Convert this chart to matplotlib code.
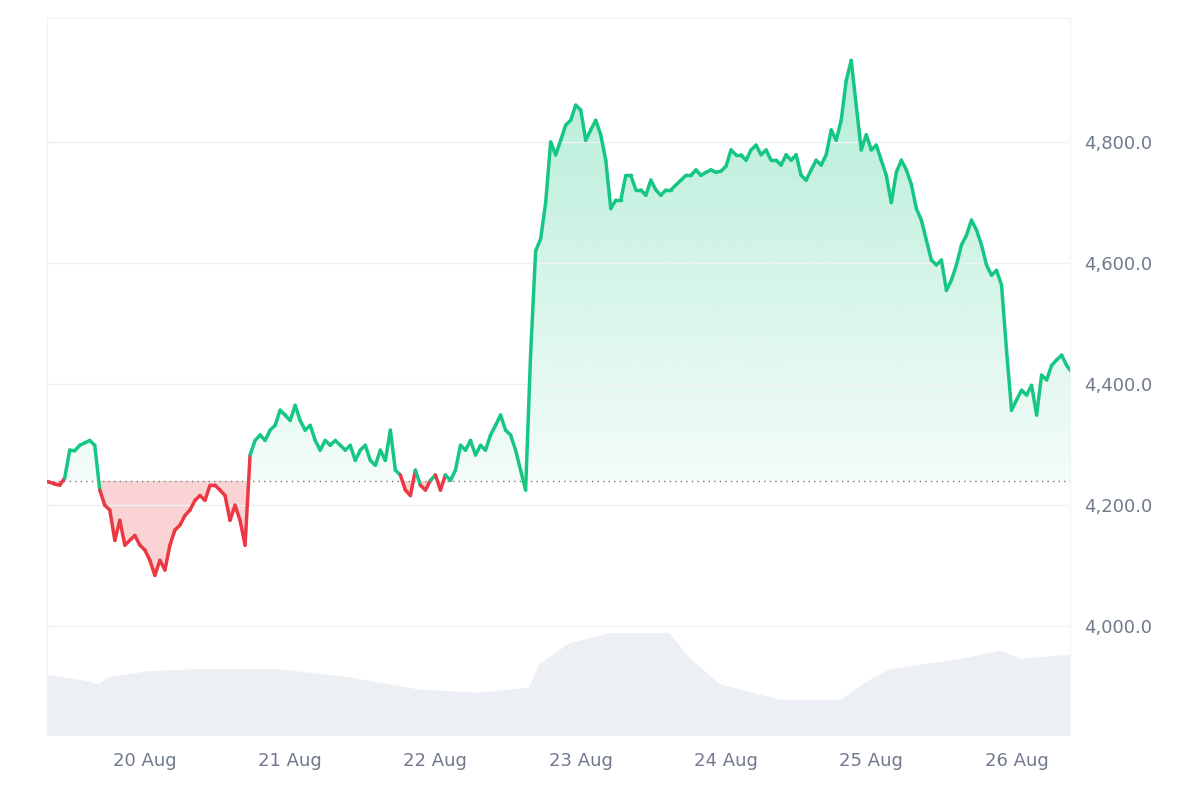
import numpy as np
from matplotlib import pyplot as plt
from matplotlib.collections import LineCollection
from matplotlib.path import Path

# Price data, sampled every ~50 minutes, starting 19 Aug ~07:30
start_hour = -16.55   # hours relative to 20 Aug 00:00
step_hour = 0.8276
price = [
    4240, 4238, 4235, 4233, 4245, 4291, 4290, 4299, 4303, 4307, 4299, 4225, 4200, 4192, 4142, 4175,
    4134, 4142, 4150, 4134, 4126, 4109, 4084, 4109, 4093, 4134, 4159, 4167, 4183, 4192, 4208, 4216,
    4208, 4233, 4233, 4225, 4216, 4175, 4200, 4175, 4134, 4283, 4307, 4316, 4307, 4324, 4332, 4357,
    4349, 4340, 4365, 4340, 4324, 4332, 4307, 4291, 4307, 4299, 4307, 4299, 4291, 4299, 4274, 4291,
    4299, 4274, 4266, 4291, 4274, 4324, 4258, 4250, 4225, 4216, 4258, 4233, 4225, 4241, 4250, 4225,
    4250, 4241, 4258, 4299, 4291, 4307, 4283, 4299, 4291, 4316, 4332, 4349, 4324, 4316, 4291, 4258,
    4225, 4450, 4620, 4640, 4700, 4800, 4779, 4803, 4828, 4836, 4861, 4853, 4803, 4820, 4836, 4812,
    4770, 4690, 4704, 4704, 4745, 4745, 4721, 4721, 4712, 4737, 4721, 4712, 4721, 4721, 4729, 4737,
    4745, 4745, 4754, 4745, 4750, 4754, 4750, 4752, 4760, 4787, 4779, 4779, 4770, 4787, 4795, 4779,
    4787, 4770, 4770, 4762, 4779, 4770, 4779, 4745, 4737, 4754, 4770, 4762, 4779, 4820, 4803, 4836,
    4902, 4935, 4860, 4787, 4812, 4787, 4795, 4770, 4745, 4700, 4750, 4770, 4754, 4730, 4690, 4671,
    4638, 4605, 4597, 4605, 4555, 4572, 4597, 4630, 4646, 4671, 4655, 4630, 4597, 4580, 4588, 4564,
    4456, 4357, 4374, 4390, 4382, 4398, 4349, 4415, 4407, 4431, 4440, 4448, 4431, 4420,
]
baseline = 4240

# Volume (arbitrary units, own scale)
vol_hour = [-16.55, -9.4, -7.7, -6.1, 0.5, 8.8, 22.0, 33.6, 45.2, 55.2, 63.4, 65.1, 70.0, 76.7,
            86.6, 90.0, 95.0, 104.9, 114.8, 119.8, 123.1, 134.7, 141.3, 144.6, 154.6]
volume = [60, 53, 50, 57, 63, 65, 65, 57, 45, 42, 47, 70, 90, 100, 100, 75, 50, 35, 35, 55, 65,
          75, 83, 75, 80]

day_ticks = [0, 24, 48, 72, 96, 120, 144]
day_labels = ["20 Aug", "21 Aug", "22 Aug", "23 Aug", "24 Aug", "25 Aug", "26 Aug"]

green = "#16c784"
red = "#ea3943"
grey_text = "#6f7a8c"

t = start_hour + step_hour * np.arange(len(price))
p = np.array(price, dtype=float)

fig = plt.figure(figsize=(12, 8), dpi=100)
ax = fig.add_axes([0.039, 0.081, 0.853, 0.8965])
ylo, yhi = 3820, 5005

# volume on a twin axis, drawn behind
axv = ax.twinx()
axv.fill_between(vol_hour, 0, volume, color="#eceff3", lw=0, zorder=0)
axv.set_ylim(0, 700)
axv.set_yticks([])
for s in axv.spines.values():
    s.set_visible(False)
ax.set_zorder(axv.get_zorder() + 1)
ax.patch.set_visible(False)

# gradient green fill above the baseline
poly = ax.fill_between(t, baseline, p, where=p >= baseline, interpolate=True,
                       color="none", lw=0)
grad = np.zeros((256, 1, 4))
grad[..., 0:3] = np.array([0x16, 0xc7, 0x84]) / 255
grad[:, 0, 3] = np.linspace(0.05, 0.32, 256)
img = ax.imshow(grad, extent=[t[0], t[-1], baseline, max(price)], origin="lower",
                aspect="auto", zorder=1)
img.set_clip_path(Path.make_compound_path(*poly.get_paths()), transform=ax.transData)

# red fill below the baseline
ax.fill_between(t, baseline, p, where=p < baseline, interpolate=True,
                color=red, alpha=0.22, lw=0, zorder=1)

# coloured price line
pts = np.column_stack([t, p])
segs = np.stack([pts[:-1], pts[1:]], axis=1)
cols = [green if (a + b) / 2 >= baseline else red for a, b in zip(p[:-1], p[1:])]
ax.add_collection(LineCollection(segs, colors=cols, linewidths=2.5, zorder=3,
                                 capstyle="round", joinstyle="round"))

ax.axhline(baseline, color="#777777", lw=1, ls=(0, (1, 3)), zorder=2)

ax.set_xlim(-16.2, 152.9)
axv.set_xlim(-16.2, 152.9)
ax.set_ylim(ylo, yhi)
ax.set_yticks([4000, 4200, 4400, 4600, 4800])
ax.set_yticklabels([f"{v:,.1f}" for v in [4000, 4200, 4400, 4600, 4800]])
ax.yaxis.tick_right()
ax.set_xticks(day_ticks)
ax.set_xticklabels(day_labels)
ax.tick_params(length=0, labelsize=13, colors=grey_text, pad=12)
ax.tick_params(axis="y", pad=10)
ax.grid(axis="y", color="#eff2f5", lw=1)
for name, s in ax.spines.items():
    s.set_color("#eff2f5")
ax.spines["bottom"].set_visible(False)

fig.savefig("out.png")
